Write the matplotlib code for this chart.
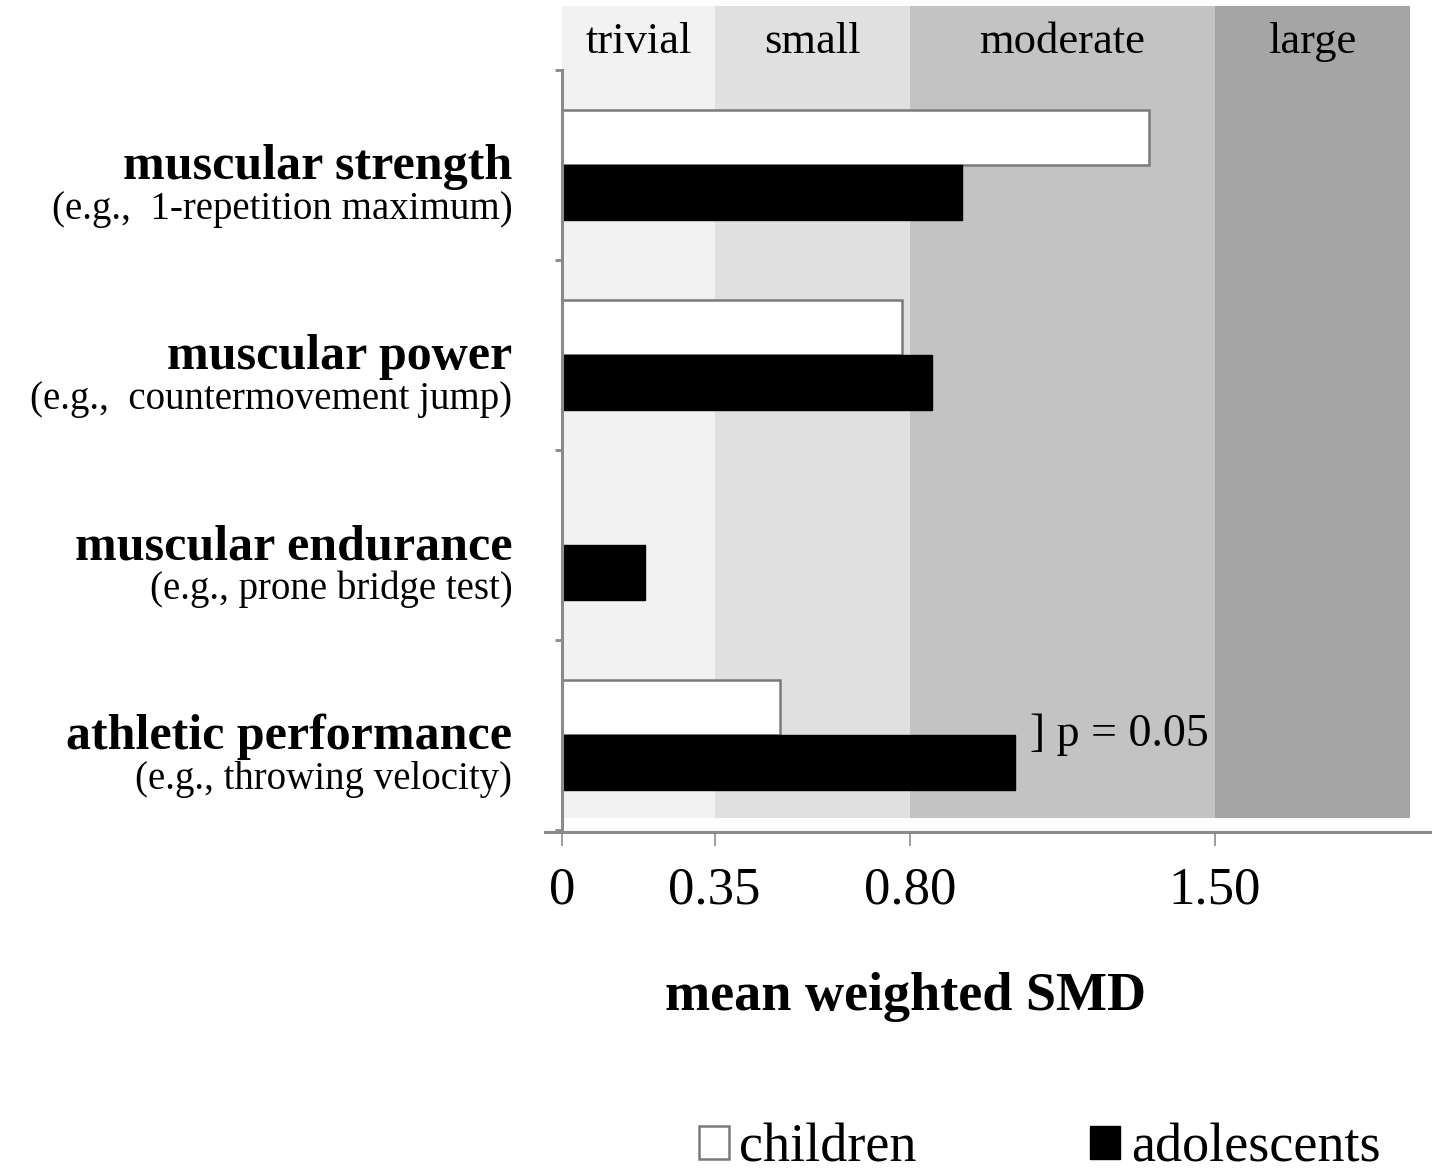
import numpy as np
import matplotlib.pyplot as plt

plt.rcParams['font.family'] = ['Liberation Serif', 'DejaVu Serif']

categories = ['muscular strength', 'muscular power', 'muscular endurance', 'athletic performance']
examples = ['(e.g.,  1-repetition maximum)', '(e.g.,  countermovement jump)',
            '(e.g., prone bridge test)', '(e.g., throwing velocity)']
children = [1.35, 0.78, np.nan, 0.50]
adolescents = [0.92, 0.85, 0.19, 1.04]

band_edges = [0, 0.35, 0.80, 1.50, 1.95]
band_names = ['trivial', 'small', 'moderate', 'large']
band_colors = ['#f2f2f2', '#e0e0e0', '#c3c3c3', '#a5a5a5']

xticks = [0, 0.35, 0.80, 1.50]
xtick_labels = ['0', '0.35', '0.80', '1.50']

fig = plt.figure(figsize=(14.32, 11.73), dpi=100)
ax = fig.add_axes([0.3806, 0.2907, 0.6194, 0.7042])

ypos = np.arange(len(categories))
h = 0.29
spine_col = '#8a8a8a'

# effect size bands
for lo, hi, name, col in zip(band_edges[:-1], band_edges[1:], band_names, band_colors):
    ax.axvspan(lo, hi, ymin=0.017, ymax=1, color=col, lw=0, zorder=0)
    ax.text((lo + hi) / 2, -0.645, name, ha='center', va='center', fontsize=32, zorder=3)

ax.barh(ypos - h / 2, children, height=h, color='white', edgecolor='#7a7a7a',
        linewidth=1.8, label='children', zorder=2)
ax.barh(ypos + h / 2, adolescents, height=h, color='black', edgecolor='black',
        linewidth=1, label='adolescents', zorder=2)

ax.text(1.076, 3.0, '] p = 0.05', ha='left', va='center', fontsize=33, zorder=3)

ax.set_xlim(-0.04, 2.0)
ax.set_ylim(3.51, -0.837)

for i, (cat, ex) in enumerate(zip(categories, examples)):
    ax.text(-0.115, i + 0.075, cat, ha='right', va='baseline', fontsize=36,
            fontweight='bold', clip_on=False)
    ax.text(-0.115, i + 0.285, ex, ha='right', va='baseline', fontsize=28, clip_on=False)

ax.spines['top'].set_visible(False)
ax.spines['right'].set_visible(False)
ax.spines['left'].set_position(('data', 0))
ax.spines['left'].set_bounds(-0.5, 3.5)
for s in ['left', 'bottom']:
    ax.spines[s].set_color(spine_col)
    ax.spines[s].set_linewidth(2.2)
    ax.spines[s].set_zorder(4)

ax.set_yticks([-0.5, 0.5, 1.5, 2.5, 3.5])
ax.set_yticklabels([])
ax.tick_params(axis='y', direction='out', length=5, width=2, color=spine_col)
ax.set_xticks(xticks)
ax.set_xticklabels(xtick_labels, fontsize=38)
ax.tick_params(axis='x', direction='out', length=10, width=1.2, color=spine_col, pad=15)

fig.text(0.632, 0.139, 'mean weighted SMD', ha='center', va='baseline',
         fontsize=39, fontweight='bold')

fig.legend(loc='center', bbox_to_anchor=(0.726, 0.021), ncol=2, frameon=False,
           fontsize=39, handlelength=0.55, handleheight=0.55, handletextpad=0.2,
           columnspacing=3.2, borderpad=0)

fig.savefig('out.png', dpi=100)
